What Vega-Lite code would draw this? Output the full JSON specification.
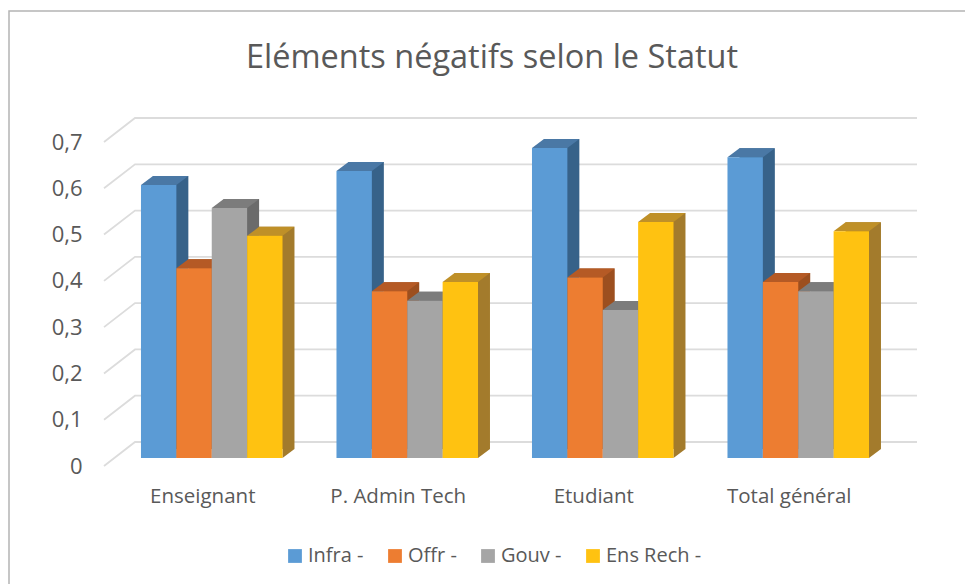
{
"$schema":"https://vega.github.io/schema/vega-lite/v6.json",
"width":782,"height":324,
"autosize":{"type":"none"},
"padding":{"left":114,"top":134,"right":69,"bottom":126},
"background":"white",
"title":{"text":"Eléments négatifs selon le Statut","font":"Open Sans","fontSize":32.5,"fontWeight":"normal","color":"#595959","anchor":"middle","dx":-13,"offset":-66},
"config":{"view":{"stroke":null}},
"datasets":{
"bars":[
{"statut":"Enseignant","serie":"Infra -","valeur":0.59},{"statut":"Enseignant","serie":"Offr -","valeur":0.41},{"statut":"Enseignant","serie":"Gouv -","valeur":0.54},{"statut":"Enseignant","serie":"Ens Rech -","valeur":0.48},
{"statut":"P. Admin Tech","serie":"Infra -","valeur":0.62},{"statut":"P. Admin Tech","serie":"Offr -","valeur":0.36},{"statut":"P. Admin Tech","serie":"Gouv -","valeur":0.34},{"statut":"P. Admin Tech","serie":"Ens Rech -","valeur":0.38},
{"statut":"Etudiant","serie":"Infra -","valeur":0.67},{"statut":"Etudiant","serie":"Offr -","valeur":0.39},{"statut":"Etudiant","serie":"Gouv -","valeur":0.32},{"statut":"Etudiant","serie":"Ens Rech -","valeur":0.51},
{"statut":"Total général","serie":"Infra -","valeur":0.65},{"statut":"Total général","serie":"Offr -","valeur":0.38},{"statut":"Total général","serie":"Gouv -","valeur":0.36},{"statut":"Total général","serie":"Ens Rech -","valeur":0.49}
],
"ticks":[{"t":0},{"t":0.1},{"t":0.2},{"t":0.3},{"t":0.4},{"t":0.5},{"t":0.6},{"t":0.7}]
},
"layer":[
{"data":{"values":[{"cadre":1}]},
 "mark":{"type":"point","shape":"M-105,460L-105,-123L860,-123","size":4,"fill":null,"stroke":"#b4b4b4","strokeWidth":1.5,"opacity":1,"clip":false},
 "encoding":{"x":{"value":0},"y":{"value":0}}},
{"data":{"name":"ticks"},
 "mark":{"type":"point","shape":"M-10,8L21,-16L803,-16","size":4,"fill":null,"stroke":"#dcdcdc","strokeWidth":1.8,"opacity":1},
 "encoding":{"x":{"value":0},
  "y":{"field":"t","type":"quantitative","scale":{"domain":[0,0.7],"nice":false},
   "axis":{"title":null,"values":[0,0.1,0.2,0.3,0.4,0.5,0.6,0.7],"domain":false,"ticks":false,"grid":false,"labelPadding":32,"labelOffset":8,"labelFont":"Open Sans","labelFontSize":22,"labelColor":"#595959","labelExpr":"datum.value==0?'0':replace(format(datum.value,'.1f'),'.',',')"}}}},
{"data":{"name":"bars"},
 "mark":{"type":"bar","yOffset":-9,"opacity":1},
 "encoding":{
  "x":{"field":"statut","type":"nominal","sort":["Enseignant","P. Admin Tech","Etudiant","Total général"],"scale":{"paddingInner":0.276,"paddingOuter":0.138},
   "axis":{"title":null,"domain":false,"ticks":false,"labelAngle":0,"labelPadding":28,"labelOffset":-9,"labelFont":"Open Sans","labelFontSize":20.5,"labelColor":"#595959"}},
  "xOffset":{"field":"serie","type":"nominal","scale":{"domain":["Infra -","Offr -","Gouv -","Ens Rech -"],"range":[12,153.5],"paddingInner":0,"paddingOuter":0}},
  "y":{"field":"valeur","type":"quantitative"},
  "color":{"field":"serie","type":"nominal","legend":null,"scale":{"domain":["Infra -","Offr -","Gouv -","Ens Rech -"],"range":["#376289","#9C4F1F","#6B6B6B","#A37B2C"]}}}},
{"data":{"name":"bars"},
 "mark":{"type":"point","shape":"M17.7,0L29.7,-9L17.7,-9Z","size":4,"filled":true,"opacity":1,"strokeWidth":0},
 "encoding":{
  "x":{"field":"statut","type":"nominal","sort":["Enseignant","P. Admin Tech","Etudiant","Total général"]},
  "xOffset":{"field":"serie","type":"nominal","scale":{"type":"band","domain":["Infra -","Offr -","Gouv -","Ens Rech -"],"range":[0,141.5],"paddingInner":0,"paddingOuter":0}},
  "y":{"datum":0,"type":"quantitative"},
  "color":{"field":"serie","type":"nominal","legend":null,"scale":{"domain":["Infra -","Offr -","Gouv -","Ens Rech -"],"range":["#376289","#9C4F1F","#6B6B6B","#A37B2C"]}}}},
{"data":{"name":"bars"},
 "mark":{"type":"point","shape":"M-17.7,0L-5.7,-9L29.7,-9L17.7,0Z","size":4,"filled":true,"opacity":1,"strokeWidth":0},
 "encoding":{
  "x":{"field":"statut","type":"nominal","sort":["Enseignant","P. Admin Tech","Etudiant","Total général"]},
  "xOffset":{"field":"serie","type":"nominal","scale":{"type":"band","domain":["Infra -","Offr -","Gouv -","Ens Rech -"],"range":[0,141.5],"paddingInner":0,"paddingOuter":0}},
  "y":{"field":"valeur","type":"quantitative"},
  "color":{"field":"serie","type":"nominal","legend":null,"scale":{"domain":["Infra -","Offr -","Gouv -","Ens Rech -"],"range":["#4A78A5","#B55A25","#7C7C7C","#BF9028"]}}}},
{"data":{"name":"bars"},
 "mark":{"type":"bar","opacity":1},
 "encoding":{
  "x":{"field":"statut","type":"nominal","sort":["Enseignant","P. Admin Tech","Etudiant","Total général"]},
  "xOffset":{"field":"serie","type":"nominal","scale":{"domain":["Infra -","Offr -","Gouv -","Ens Rech -"],"paddingInner":0,"paddingOuter":0}},
  "y":{"field":"valeur","type":"quantitative"},
  "color":{"field":"serie","type":"nominal","scale":{"domain":["Infra -","Offr -","Gouv -","Ens Rech -"],"range":["#5B9BD5","#ED7D31","#A5A5A5","#FFC211"]},
   "legend":{"title":null,"orient":"none","legendX":171,"legendY":412,"direction":"horizontal","columns":4,"symbolType":"square","symbolSize":190,"symbolStrokeWidth":0,"labelFont":"Open Sans","labelFontSize":20,"labelColor":"#595959","labelOffset":3,"columnPadding":21,"padding":0}}}}
],
"resolve":{"scale":{"color":"independent","xOffset":"independent"}}
}
